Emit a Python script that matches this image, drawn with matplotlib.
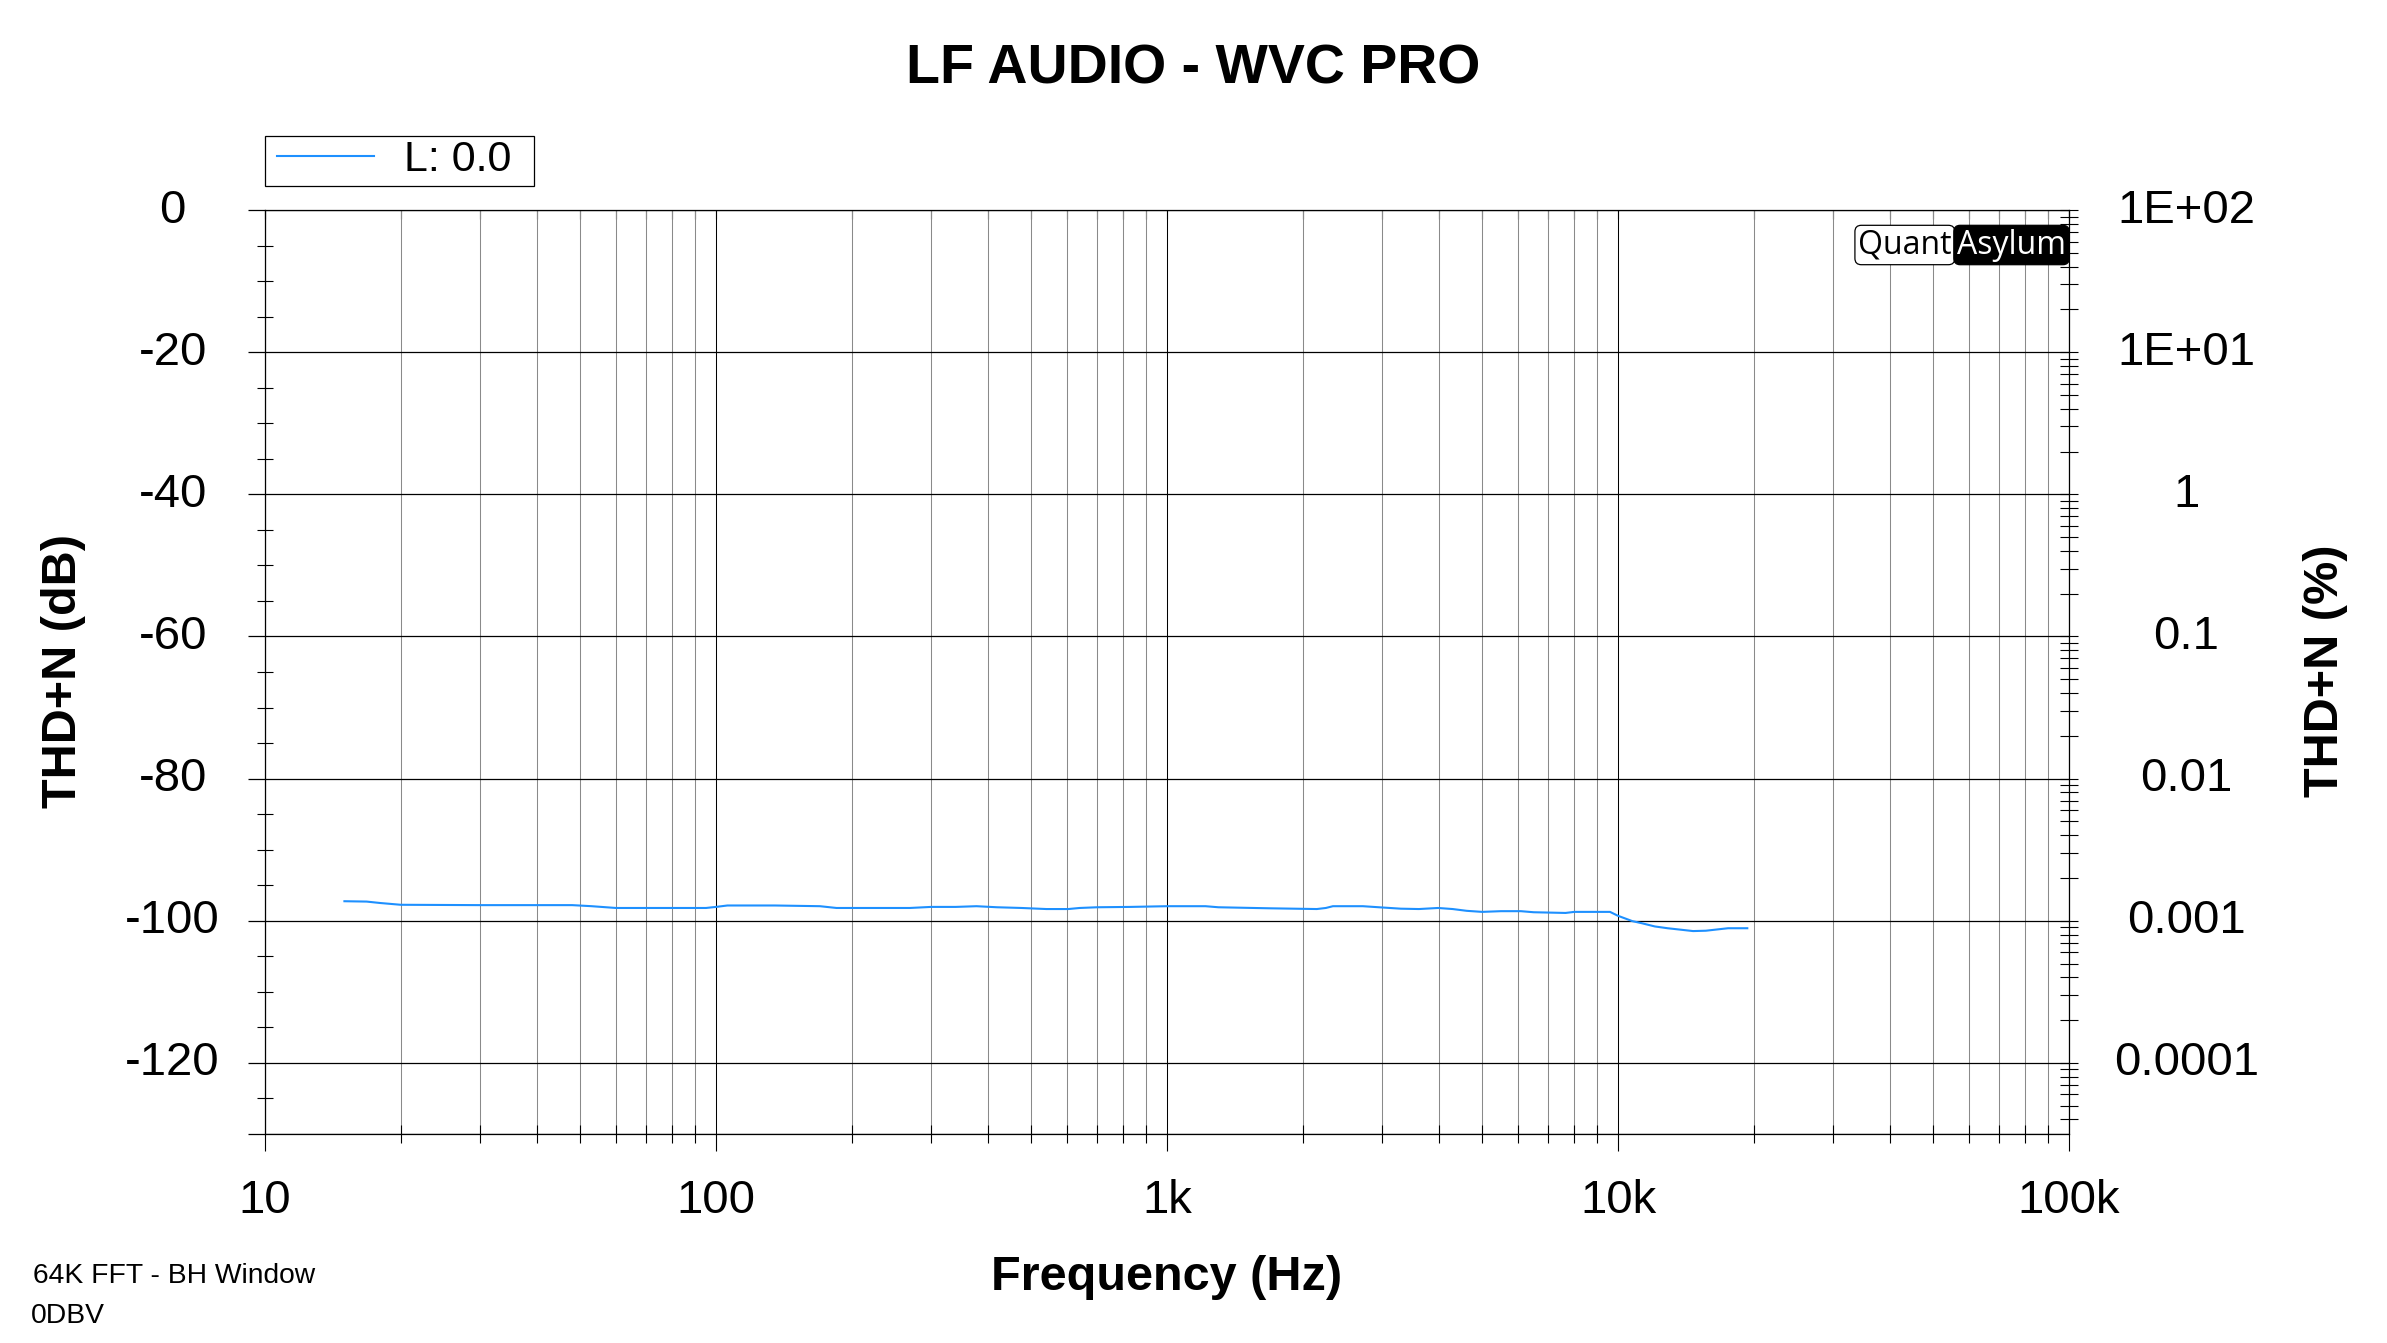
import numpy as np
import matplotlib
matplotlib.use("Agg")
import matplotlib.pyplot as plt
from matplotlib.ticker import FixedLocator, FixedFormatter, LogLocator, NullFormatter, MultipleLocator
from matplotlib.transforms import ScaledTranslation
from matplotlib.patches import Rectangle

plt.rcParams['font.family'] = ['Liberation Sans', 'DejaVu Sans']

# ---------------- data ----------------
title = "LF AUDIO - WVC PRO"
series_label = "L: 0.0"
freq_hz = [15, 16.8, 18, 20, 30, 48, 53, 60, 95, 100, 106, 135, 170, 185, 269, 300,
           340, 378, 420, 476, 540, 604, 640, 700, 830, 1000, 1217, 1300, 1703, 2149,
           2250, 2333, 2718, 2950, 3300, 3620, 3990, 4300, 4618, 5000, 5500, 6090,
           6500, 7650, 8000, 9600, 10000, 10760, 11300, 12070, 12880, 13750, 14670,
           15660, 16710, 17540, 19350]
thdn_db = [-97.25, -97.3, -97.5, -97.75, -97.8, -97.8, -97.95, -98.2, -98.2, -98.05,
           -97.85, -97.85, -97.95, -98.2, -98.2, -98.05, -98.05, -97.95, -98.1, -98.2,
           -98.35, -98.35, -98.2, -98.1, -98.05, -97.95, -97.95, -98.1, -98.25, -98.35,
           -98.2, -97.95, -97.95, -98.1, -98.3, -98.35, -98.2, -98.35, -98.6, -98.75,
           -98.65, -98.65, -98.8, -98.9, -98.75, -98.75, -99.3, -100.05, -100.35,
           -100.8, -101.05, -101.25, -101.45, -101.4, -101.2, -101.05, -101.05]
x_ticks = [10, 100, 1000, 10000, 100000]
x_ticklabels = ["10", "100", "1k", "10k", "100k"]
y_ticks = [0, -20, -40, -60, -80, -100, -120, -130]
y_ticklabels = ["0", "-20", "-40", "-60", "-80", "-100", "-120", ""]
pct_ticks = [1e2, 1e1, 1, 0.1, 0.01, 0.001, 0.0001]
pct_ticklabels = ["1E+02", "1E+01", "1", "0.1", "0.01", "0.001", "0.0001"]
y_min, y_max = -130, 0
notes = ["64K FFT - BH Window", "0DBV"]

# ---------------- figure ----------------
W, H = 2387, 1343
fig = plt.figure(figsize=(W / 100, H / 100), dpi=100)
L, R, T, B = 265, 2069, 210, 1134
ax = fig.add_axes([L / W, 1 - B / H, (R - L) / W, (B - T) / H])

line_color = '#1E90FF'
ax.plot(freq_hz, thdn_db, color=line_color, lw=1.5, label=series_label, zorder=5)

ax.set_xscale('log')
ax.set_xlim(10, 1e5)
ax.set_ylim(y_min, y_max)

for s in ax.spines.values():
    s.set_color('black')
    s.set_linewidth(0.9)

TICKFS = 34
# x axis
ax.xaxis.set_major_locator(FixedLocator(x_ticks))
ax.xaxis.set_major_formatter(FixedFormatter(x_ticklabels))
ax.xaxis.set_minor_locator(LogLocator(base=10, subs=np.arange(2, 10)))
ax.xaxis.set_minor_formatter(NullFormatter())
ax.tick_params(axis='x', which='major', direction='out', length=12.2, width=0.8,
               color='black', labelsize=TICKFS, pad=20.5)
ax.tick_params(axis='x', which='minor', direction='inout', length=13, width=0.8,
               color='black')

# y axis
ax.yaxis.set_major_locator(FixedLocator(y_ticks))
ax.yaxis.set_major_formatter(FixedFormatter(y_ticklabels))
ax.yaxis.set_minor_locator(MultipleLocator(5))
ax.tick_params(axis='y', which='major', direction='out', length=12.5, width=0.9,
               color='black', labelsize=TICKFS, pad=54, left=True, right=True)
ax.tick_params(axis='y', which='minor', direction='inout', length=11.5, width=0.8,
               color='black', left=True, right=False)
ax.yaxis.get_major_ticks()[-1].tick2line.set_visible(False)

# grid
ax.grid(which='minor', axis='x', color='#8a8a8a', lw=0.75)
ax.grid(which='major', axis='x', color='black', lw=0.75)
ax.grid(which='major', axis='y', color='black', lw=0.9)
ax.set_axisbelow(True)

# top minor ticks (inward)
top = ax.secondary_xaxis('top')
top.set_xscale('log')
top.xaxis.set_major_locator(FixedLocator(x_ticks))
top.xaxis.set_major_formatter(NullFormatter())
top.xaxis.set_minor_locator(LogLocator(base=10, subs=np.arange(2, 10)))
top.xaxis.set_minor_formatter(NullFormatter())
top.tick_params(which='both', direction='in', length=6.5, width=0.8, color='black')
top.spines['top'].set_visible(False)

# right percentage axis
ax2 = ax.twinx()
ax2.set_yscale('log')
ax2.set_ylim(100 * 10 ** (y_min / 20), 100 * 10 ** (y_max / 20))
ax2.yaxis.set_major_locator(FixedLocator(pct_ticks))
ax2.yaxis.set_major_formatter(FixedFormatter(pct_ticklabels))
ax2.yaxis.set_minor_locator(LogLocator(base=10, subs=np.arange(2, 10), numticks=20))
ax2.yaxis.set_minor_formatter(NullFormatter())
ax2.tick_params(axis='y', which='both', direction='inout', length=13, width=0.8,
                color='black')
ax2.tick_params(axis='y', which='major', labelsize=TICKFS, pad=78)
for s in ax2.spines.values():
    s.set_visible(False)

# center the y tick labels and lift them slightly
lift = ScaledTranslation(0, 3.2 / 72, fig.dpi_scale_trans)
for lbl in list(ax.get_yticklabels()) + list(ax2.get_yticklabels()):
    lbl.set_ha('center')
    lbl.set_transform(lbl.get_transform() + lift)

# labels
fig.text(1193 / W, 1 - 70 / H, title, ha='center', va='center', fontsize=40,
         fontweight='bold')
fig.text(1167 / W, 1 - 1278 / H, "Frequency (Hz)", ha='center', va='center',
         fontsize=35, fontweight='bold')
fig.text(64 / W, 1 - 671 / H, "THD+N (dB)", ha='center', va='center', fontsize=35,
         fontweight='bold', rotation=90)
fig.text(2325 / W, 1 - 671 / H, "THD+N (%)", ha='center', va='center', fontsize=35,
         fontweight='bold', rotation=90)
fig.text(33 / W, 1 - 1276 / H, notes[0], ha='left', va='center', fontsize=20.3)
fig.text(31 / W, 1 - 1316 / H, notes[1], ha='left', va='center', fontsize=20.3)

# legend (entry without frame + separate box)
lx0, lx1, ly0, ly1 = 265, 534, 136, 186
leg = ax.legend(loc='center left', bbox_to_anchor=(277 / W, 1 - 160 / H),
                bbox_transform=fig.transFigure, borderaxespad=0, borderpad=0,
                frameon=False, fontsize=31, handlelength=2.25, handletextpad=0.7)
fig.patches.append(Rectangle((lx0 / W, 1 - ly1 / H), (lx1 - lx0) / W, (ly1 - ly0) / H,
                             transform=fig.transFigure, fill=False, ec='black', lw=0.9))

# QuantAsylum logo
t_asy = fig.text(2066 / W, 1 - 245 / H, "Asylum", ha='right', va='center', fontsize=23,
                 family='Open Sans', color='white',
                 bbox=dict(boxstyle='round,pad=0.1,rounding_size=0.2', fc='black',
                           ec='black', lw=0.9))
fig.canvas.draw()
asy_box = t_asy.get_bbox_patch().get_window_extent()
pad_px = 0.1 * 23 * 100 / 72
fig.text((asy_box.x0 - pad_px + 1) / W, 1 - 245 / H, "Quant", ha='right', va='center',
         fontsize=23, family='Open Sans', color='black', zorder=t_asy.get_zorder() - 1,
         bbox=dict(boxstyle='round,pad=0.1,rounding_size=0.2', fc='white', ec='black',
                   lw=0.9))

fig.savefig('out.png', dpi=100, facecolor='white')
